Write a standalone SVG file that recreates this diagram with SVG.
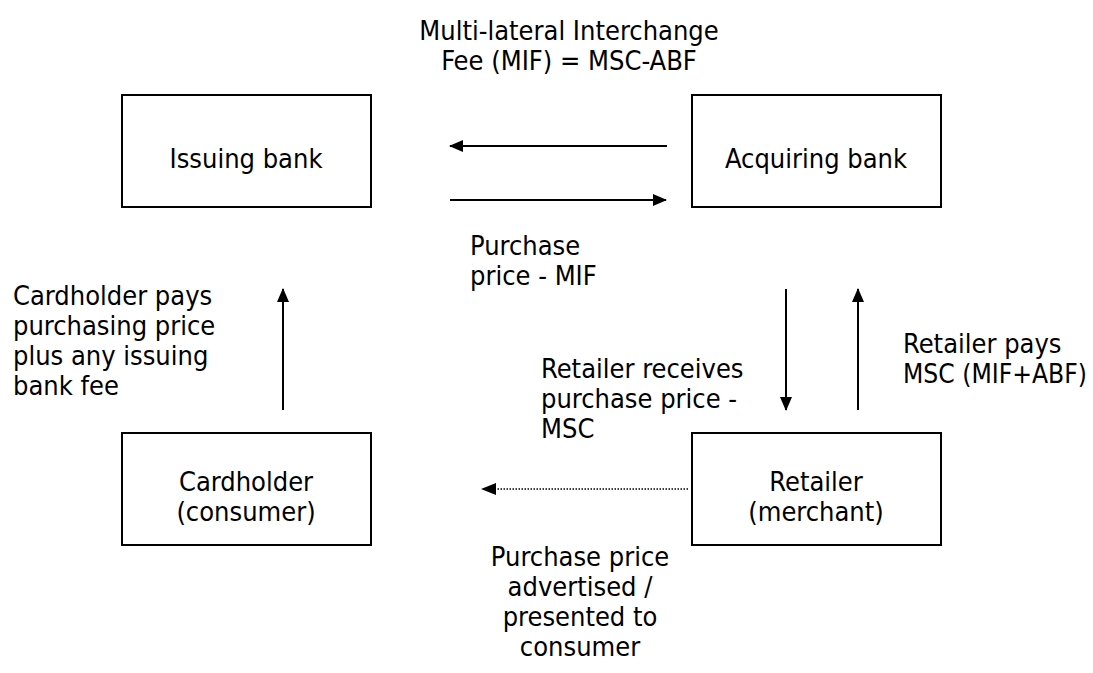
<svg xmlns="http://www.w3.org/2000/svg" width="1093" height="673" viewBox="0 0 1093 673">
<style>
text{font-family:"DejaVu Sans Condensed","DejaVu Sans",sans-serif;font-size:27px;fill:#000}
.box{fill:#fff;stroke:#000;stroke-width:2}
.c{text-anchor:middle}
.ln{stroke:#000;stroke-width:2;fill:none}
.dot{stroke:#000;stroke-width:1.5;stroke-dasharray:1.5 1.5;fill:none}
</style>
<defs>
<marker id="ah" viewBox="0 0 14 12" refX="13" refY="6" markerWidth="14" markerHeight="12" markerUnits="userSpaceOnUse" orient="auto"><path d="M0,0 L14,6 L0,12 z" fill="#000"/></marker>
</defs>
<rect width="1093" height="673" fill="#fff"/>
<g id="title">
<text class="c" x="569" y="40">Multi-lateral Interchange</text>
<text class="c" x="569" y="70">Fee (MIF) = MSC-ABF</text>
</g>
<g id="issuing-bank"><rect class="box" x="122" y="95" width="249" height="112"/><text class="c" x="246" y="168">Issuing bank</text></g>
<g id="acquiring-bank"><rect class="box" x="692" y="95" width="249" height="112"/><text class="c" x="816" y="168">Acquiring bank</text></g>
<g id="cardholder"><rect class="box" x="122" y="433" width="249" height="112"/><text class="c" x="246" y="491">Cardholder</text><text class="c" x="246" y="521">(consumer)</text></g>
<g id="retailer"><rect class="box" x="692" y="433" width="249" height="112"/><text class="c" x="816" y="491">Retailer</text><text class="c" x="816" y="521">(merchant)</text></g>
<g id="connectors">
<line class="ln" x1="667" y1="146" x2="450" y2="146" marker-end="url(#ah)"/>
<line class="ln" x1="450" y1="200" x2="666" y2="200" marker-end="url(#ah)"/>
<line class="ln" x1="786" y1="289" x2="786" y2="410" marker-end="url(#ah)"/>
<line class="ln" x1="858" y1="410" x2="858" y2="289" marker-end="url(#ah)"/>
<line class="ln" x1="283" y1="410" x2="283" y2="289" marker-end="url(#ah)"/>
<line class="dot" x1="688" y1="489" x2="495" y2="489"/>
<path d="M481,489 L496,483 L496,495 z" fill="#000"/>
</g>
<g id="labels">
<text x="470" y="255">Purchase</text>
<text x="470" y="285">price - MIF</text>
<text x="13" y="305">Cardholder pays</text>
<text x="13" y="335">purchasing price</text>
<text x="13" y="365">plus any issuing</text>
<text x="13" y="395">bank fee</text>
<text x="541" y="378">Retailer receives</text>
<text x="541" y="408">purchase price -</text>
<text x="541" y="438">MSC</text>
<text x="903" y="353">Retailer pays</text>
<text x="903" y="383" textLength="184" lengthAdjust="spacingAndGlyphs">MSC (MIF+ABF)</text>
<text class="c" x="580" y="566">Purchase price</text>
<text class="c" x="580" y="596">advertised /</text>
<text class="c" x="580" y="626">presented to</text>
<text class="c" x="580" y="656">consumer</text>
</g>
</svg>
